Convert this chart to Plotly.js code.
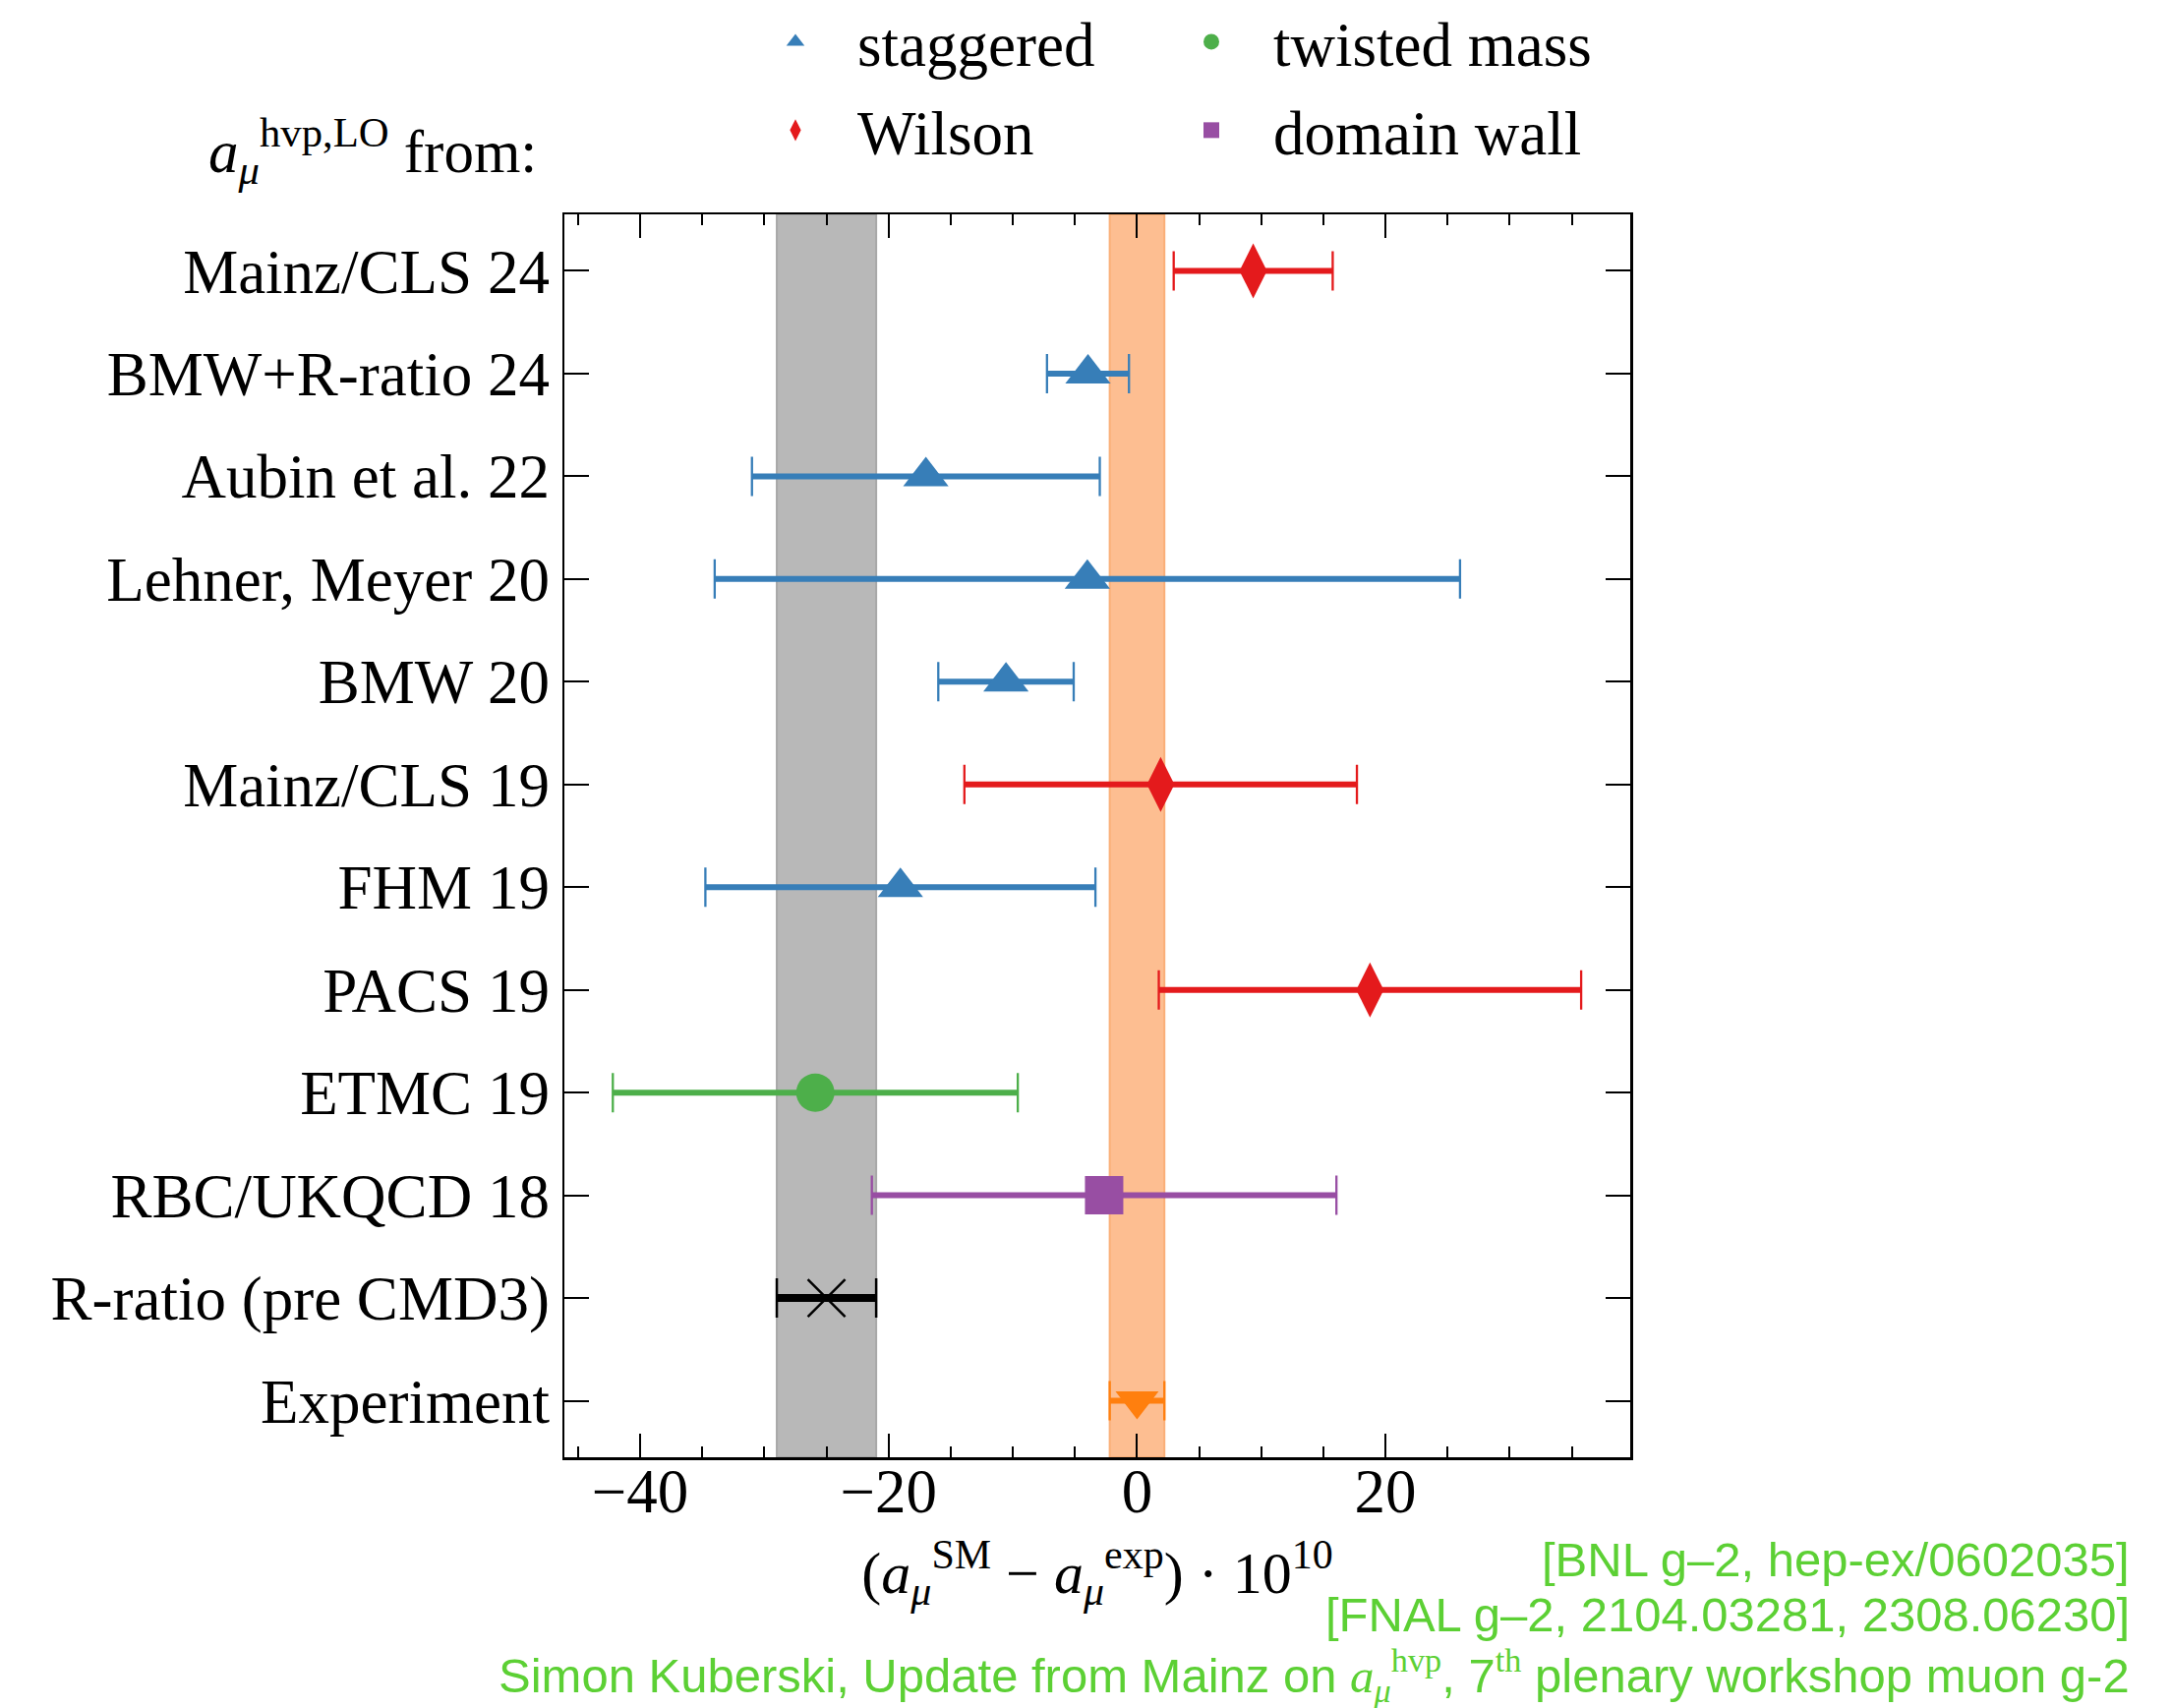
<!DOCTYPE html>
<html>
<head>
<meta charset="utf-8">
<script src="https://cdn.plot.ly/plotly-3.0.1.min.js"></script>
<style>html,body{margin:0;padding:0;background:#fff;}#chart{width:2208px;height:1737px;}</style>
</head>
<body>
<div id="chart"></div>
<script>
// ---- data ----
const categories = ['Experiment', 'R-ratio (pre CMD3)', 'RBC/UKQCD 18', 'ETMC 19', 'PACS 19', 'FHM 19',
  'Mainz/CLS 19', 'BMW 20', 'Lehner, Meyer 20', 'Aubin et al. 22', 'BMW+R-ratio 24', 'Mainz/CLS 24'];

const staggeredLabels = ['BMW+R-ratio 24', 'Aubin et al. 22', 'Lehner, Meyer 20', 'BMW 20', 'FHM 19'];
const staggeredValues = [-3.95, -17.0, -4.0, -10.55, -19.05];
const staggeredErrors = [3.3, 14.0, 30.0, 5.45, 15.7];

const wilsonLabels = ['Mainz/CLS 24', 'Mainz/CLS 19', 'PACS 19'];
const wilsonValues = [9.35, 1.9, 18.75];
const wilsonErrors = [6.4, 15.8, 17.0];

const twistedLabels = ['ETMC 19'];
const twistedValues = [-25.9];
const twistedErrors = [16.3];

const domainLabels = ['RBC/UKQCD 18'];
const domainValues = [-2.65];
const domainErrors = [18.7];

const rratioLabels = ['R-ratio (pre CMD3)'];
const rratioValues = [-25.0];
const rratioErrors = [4.0];

const experimentLabels = ['Experiment'];
const experimentValues = [0.0];
const experimentErrors = [2.2];

// ---- layout geometry (pixels) ----
const FIG_W = 2208, FIG_H = 1737;
const L = 574, R = 1658, T = 218, B = 1482;
const PW = R - L, PH = B - T;
const px = x => (x - L) / PW;
const py = y => (B - y) / PH;

const SERIF = 'Liberation Serif, Times New Roman, serif';
const SANS = 'Liberation Sans, Arial, sans-serif';
const GREEN = 'rgb(92,208,52)';

function group(name, labels, values, errors, color, symbol, size, opts) {
  opts = opts || {};
  const caps = {
    type: 'scatter', mode: 'markers', x: values, y: labels, showlegend: false, hoverinfo: 'skip',
    marker: {opacity: 0, size: 2, color: color},
    error_x: {type: 'data', array: errors, visible: true, color: color, thickness: opts.capThick || 2.3, width: 20}
  };
  const main = {
    type: 'scatter', mode: 'markers', name: name, x: values, y: labels,
    showlegend: opts.legend !== undefined, legend: opts.legend, legendgroup: name,
    marker: Object.assign({symbol: symbol, size: size, color: color, line: {width: 0}}, opts.marker || {}),
    error_x: {type: 'data', array: errors, visible: true, color: color, thickness: opts.barThick || 6, width: 0}
  };
  return [caps, main];
}

const data = [].concat(
  group('staggered', staggeredLabels, staggeredValues, staggeredErrors, '#377eb8', 'triangle-up', 40, {legend: 'legend'}),
  group('Wilson', wilsonLabels, wilsonValues, wilsonErrors, '#e41a1c', 'diamond-tall', 40, {legend: 'legend'}),
  group('twisted mass', twistedLabels, twistedValues, twistedErrors, '#4daf4a', 'circle', 39, {legend: 'legend2'}),
  group('domain wall', domainLabels, domainValues, domainErrors, '#984ea3', 'square', 39, {legend: 'legend2'}),
  group('R-ratio', rratioLabels, rratioValues, rratioErrors, '#000000', 'x-thin', 38,
        {barThick: 8, capThick: 2.5, marker: {line: {width: 2.5, color: '#000000'}}}),
  group('Experiment', experimentLabels, experimentValues, experimentErrors, '#ff7f0e', 'triangle-down', 38, {})
);

const shapes = [
  {type: 'rect', xref: 'x', yref: 'paper', layer: 'below',
   x0: rratioValues[0] - rratioErrors[0], x1: rratioValues[0] + rratioErrors[0], y0: 0, y1: 1,
   fillcolor: 'rgb(184,184,184)', line: {color: 'rgb(168,168,168)', width: 2}},
  {type: 'rect', xref: 'x', yref: 'paper', layer: 'below',
   x0: experimentValues[0] - experimentErrors[0], x1: experimentValues[0] + experimentErrors[0], y0: 0, y1: 1,
   fillcolor: 'rgb(253,190,145)', line: {color: 'rgb(250,175,120)', width: 2}}
];

const annotations = [
  {xref: 'paper', yref: 'paper', x: px(210), y: py(153), xanchor: 'left', yanchor: 'middle', showarrow: false,
   text: '<i>a</i><sub><i>μ</i></sub><sup>hvp,LO</sup> from:', font: {family: SERIF, size: 61, color: '#000'}},
  {xref: 'paper', yref: 'paper', x: px(2168), y: py(1586), xanchor: 'right', yanchor: 'middle', showarrow: false,
   text: '[BNL g–2, hep-ex/0602035]', font: {family: SANS, size: 49, color: GREEN}},
  {xref: 'paper', yref: 'paper', x: px(2168), y: py(1642), xanchor: 'right', yanchor: 'middle', showarrow: false,
   text: '[FNAL g–2, 2104.03281, 2308.06230]', font: {family: SANS, size: 49, color: GREEN}},
  {xref: 'paper', yref: 'paper', x: px(2168), y: py(1703), xanchor: 'right', yanchor: 'middle', showarrow: false,
   text: 'Simon Kuberski, Update from Mainz on <span style="font-family:Liberation Serif"><i>a</i><sub><i>μ</i></sub><sup>hvp</sup></span>, 7<span style="font-family:Liberation Serif"><sup>th</sup></span> plenary workshop muon g-2',
   font: {family: SANS, size: 49, color: GREEN}}
];

const layout = {
  width: FIG_W, height: FIG_H,
  margin: {l: L, r: FIG_W - R, t: T, b: FIG_H - B, pad: 0, autoexpand: false},
  paper_bgcolor: '#ffffff', plot_bgcolor: '#ffffff',
  font: {family: SERIF, size: 63, color: '#000000'},
  showlegend: true,
  xaxis: {
    range: [-46.1, 39.7], tick0: 0, dtick: 20, showgrid: false, zeroline: false,
    ticks: 'inside', ticklen: 24, tickwidth: 2, tickcolor: '#000',
    minor: {dtick: 5, ticks: 'inside', ticklen: 11, tickwidth: 2, tickcolor: '#000', showgrid: false},
    showline: true, linewidth: 2.5, linecolor: '#000', mirror: 'allticks',
    ticklabelstandoff: -22,
    tickfont: {family: SERIF, size: 63},
    title: {text: '(<i>a</i><sub><i>μ</i></sub><sup>SM</sup> − <i>a</i><sub><i>μ</i></sub><sup>exp</sup>) · 10<sup>10</sup>',
            font: {family: SERIF, size: 60}, standoff: 27}
  },
  yaxis: {
    type: 'category', categoryorder: 'array', categoryarray: categories,
    range: [-0.55, categories.length - 1 + 0.55], showgrid: false, zeroline: false,
    ticks: 'inside', ticklen: 25, tickwidth: 2, tickcolor: '#000',
    showline: true, linewidth: 2.5, linecolor: '#000', mirror: 'allticks',
    ticklabelstandoff: 0,
    tickfont: {family: SERIF, size: 63}
  },
  legend: {
    x: px(746), y: py(-5), xanchor: 'left', yanchor: 'top', orientation: 'v',
    traceorder: 'grouped', tracegroupgap: 5, itemwidth: 116, bgcolor: 'rgba(0,0,0,0)',
    font: {family: SERIF, size: 63}
  },
  legend2: {
    x: px(1169), y: py(-5), xanchor: 'left', yanchor: 'top', orientation: 'v',
    traceorder: 'grouped', tracegroupgap: 5, itemwidth: 116, bgcolor: 'rgba(0,0,0,0)',
    font: {family: SERIF, size: 63}
  },
  shapes: shapes,
  annotations: annotations
};

Plotly.newPlot('chart', data, layout, {displayModeBar: false, staticPlot: true});
</script>
</body>
</html>
